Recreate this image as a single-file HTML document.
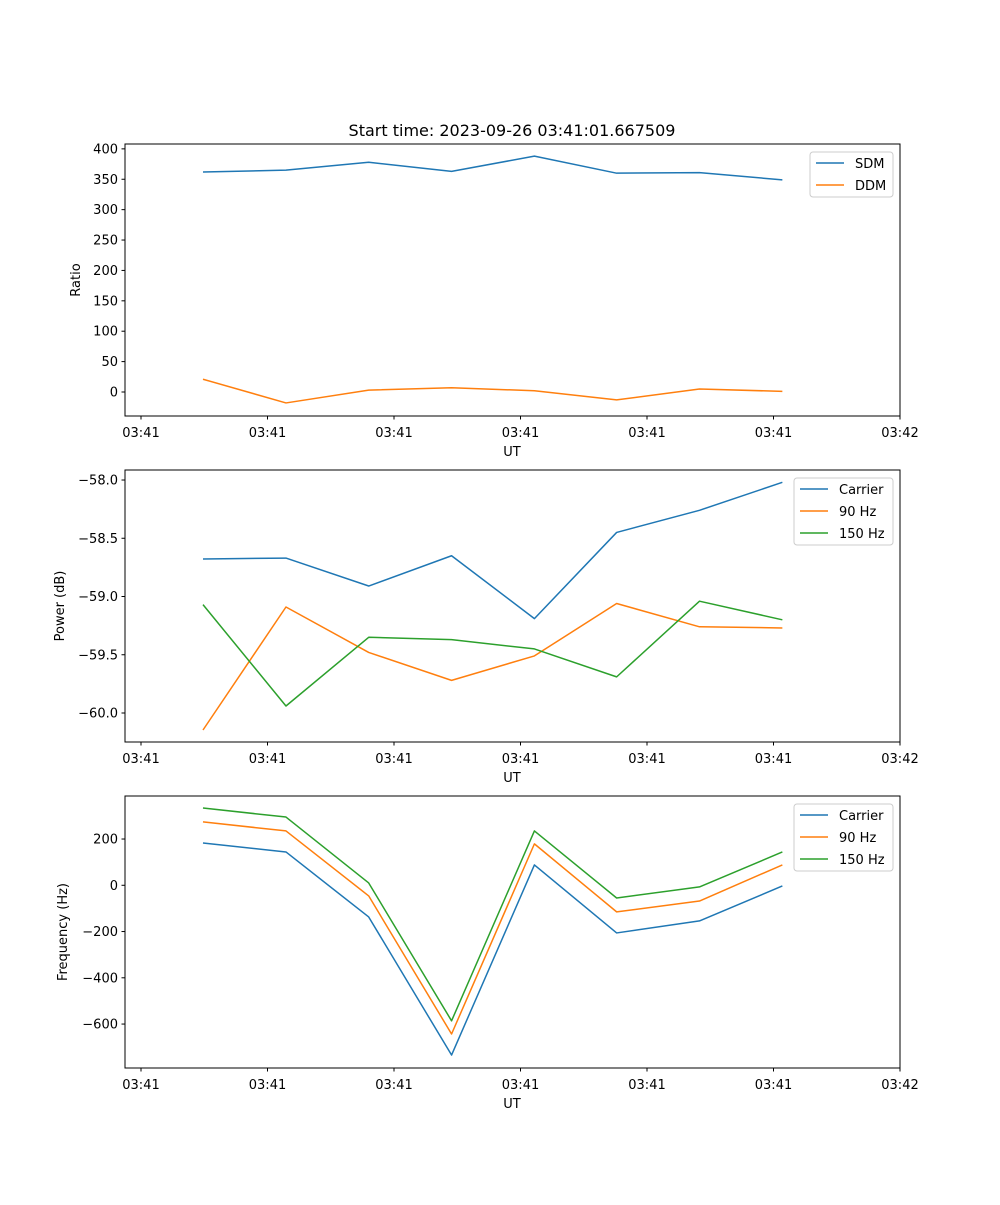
<!DOCTYPE html>
<html><head><meta charset="utf-8">
<style>
body{margin:0;background:#fff;}
svg text{font-family:"DejaVu Sans","Liberation Sans",sans-serif;fill:#000;}
</style></head>
<body>
<svg id="fig" width="1000" height="1200" xmlns="http://www.w3.org/2000/svg">
<rect width="1000" height="1200" fill="#fff"/>
<text x="512" y="136" font-size="16" text-anchor="middle">Start time: 2023-09-26 03:41:01.667509</text>
</svg>
<script>
// x positions in tick units (tick 0 = first "03:41" tick)
const times = [0.49, 1.146, 1.80, 2.455, 3.11, 3.76, 4.415, 5.07];
const xTickLabels = ["03:41","03:41","03:41","03:41","03:41","03:41","03:42"];
const xTickValues = [0,1,2,3,4,5,6];

const sdm = [362, 365, 378, 363, 388, 360, 361, 349];
const ddm = [21, -18, 3, 7, 2, -13, 5, 1];
const ratioTicks = [0,50,100,150,200,250,300,350,400];

const pwrCarrier = [-58.678, -58.67, -58.91, -58.65, -59.19, -58.45, -58.26, -58.02];
const pwr90 = [-60.146, -59.09, -59.48, -59.72, -59.51, -59.06, -59.26, -59.27];
const pwr150 = [-59.07, -59.94, -59.35, -59.37, -59.45, -59.69, -59.04, -59.2];
const pwrTicks = [-60.0,-59.5,-59.0,-58.5,-58.0];

const frqCarrier = [183, 144, -137, -734, 88, -206, -154, -3];
const frq90 = [274, 235, -46, -643, 179, -115, -68, 88];
const frq150 = [334, 295, 10, -586, 235, -55, -7, 144];
const frqTicks = [-600,-400,-200,0,200];

const NS="http://www.w3.org/2000/svg";
const svg=document.getElementById('fig');
function mk(tag,attrs,parent){const e=document.createElementNS(NS,tag);for(const k in attrs)e.setAttribute(k,attrs[k]);(parent||svg).appendChild(e);return e;}
const L=125,R=900;
const xScale=t=>141+t*126.5;

function panel(name,top,bot,ymin,ymax,yTicks,fmt,ylabel,series,legend){
  const g=mk('g',{});
  
  
  const ys=v=>bot-(v-ymin)/(ymax-ymin)*(bot-top);
  series.forEach(s=>{
    const pts=s.vals.map((v,i)=>xScale(times[i]).toFixed(2)+','+ys(v).toFixed(2)).join(' ');
    const p=mk('polyline',{points:pts,fill:'none',stroke:s.color,'stroke-width':1.5,'stroke-linejoin':'round'},g);
    
    
  });
  const fr=mk('rect',{x:L,y:top,width:R-L,height:bot-top,fill:'none',stroke:'#000','stroke-width':1},g);
  
  
  xTickValues.forEach((t,i)=>{
    const x=xScale(t);
    mk('line',{x1:x,x2:x,y1:bot,y2:bot+3.5,stroke:'#000','stroke-width':1},g);
    const tx=mk('text',{x:x,y:bot+21,'font-size':13,'text-anchor':'middle'},g);
    tx.textContent=xTickLabels[i];
    
    
  });
  const xl=mk('text',{x:512,y:bot+40,'font-size':13,'text-anchor':'middle'},g);
  xl.textContent='UT';
  
  
  yTicks.forEach(v=>{
    const y=ys(v);
    mk('line',{x1:L-3.5,x2:L,y1:y,y2:y,stroke:'#000','stroke-width':1},g);
    const tx=mk('text',{x:L-7,y:y+4.5,'font-size':13,'text-anchor':'end'},g);
    tx.textContent=fmt(v);
    
    
  });
  const ylx=legend.ylx;
  const yl=mk('text',{x:ylx,y:(top+bot)/2,'font-size':13,'text-anchor':'middle',transform:`rotate(-90 ${ylx} ${(top+bot)/2})`},g);
  yl.textContent=ylabel;
  
  
  const lg=mk('g',{},g);
  
  
  mk('rect',{x:legend.x,y:top+8,width:893-legend.x,height:series.length*22+1,rx:3,fill:'#fff','fill-opacity':0.8,stroke:'#ccc','stroke-width':1},lg);
  series.forEach((s,i)=>{
    const y=top+19+i*22;
    mk('line',{x1:legend.x+6,x2:legend.x+34,y1:y,y2:y,stroke:s.color,'stroke-width':1.5},lg);
    const t=mk('text',{x:legend.x+45,y:y+5,'font-size':13},lg);
    t.textContent=s.label;
    
    
  });
}
const B='#1f77b4',O='#ff7f0e',G='#2ca02c';
panel('ratio',144,416,-39.5,408,ratioTicks,v=>String(v),'Ratio',
  [{key:'sdm',label:'SDM',vals:sdm,color:B},{key:'ddm',label:'DDM',vals:ddm,color:O}],{x:810,ylx:80});
panel('power',470,742,-60.249,-57.914,pwrTicks,v=>'\u2212'+Math.abs(v).toFixed(1),'Power (dB)',
  [{key:'carrier',label:'Carrier',vals:pwrCarrier,color:B},{key:'90hz',label:'90 Hz',vals:pwr90,color:O},{key:'150hz',label:'150 Hz',vals:pwr150,color:G}],{x:794,ylx:64});
panel('frequency',796,1068,-790,386,frqTicks,v=>v<0?'\u2212'+Math.abs(v):String(v),'Frequency (Hz)',
  [{key:'carrier',label:'Carrier',vals:frqCarrier,color:B},{key:'90hz',label:'90 Hz',vals:frq90,color:O},{key:'150hz',label:'150 Hz',vals:frq150,color:G}],{x:794,ylx:67});
</script>
</body></html>
